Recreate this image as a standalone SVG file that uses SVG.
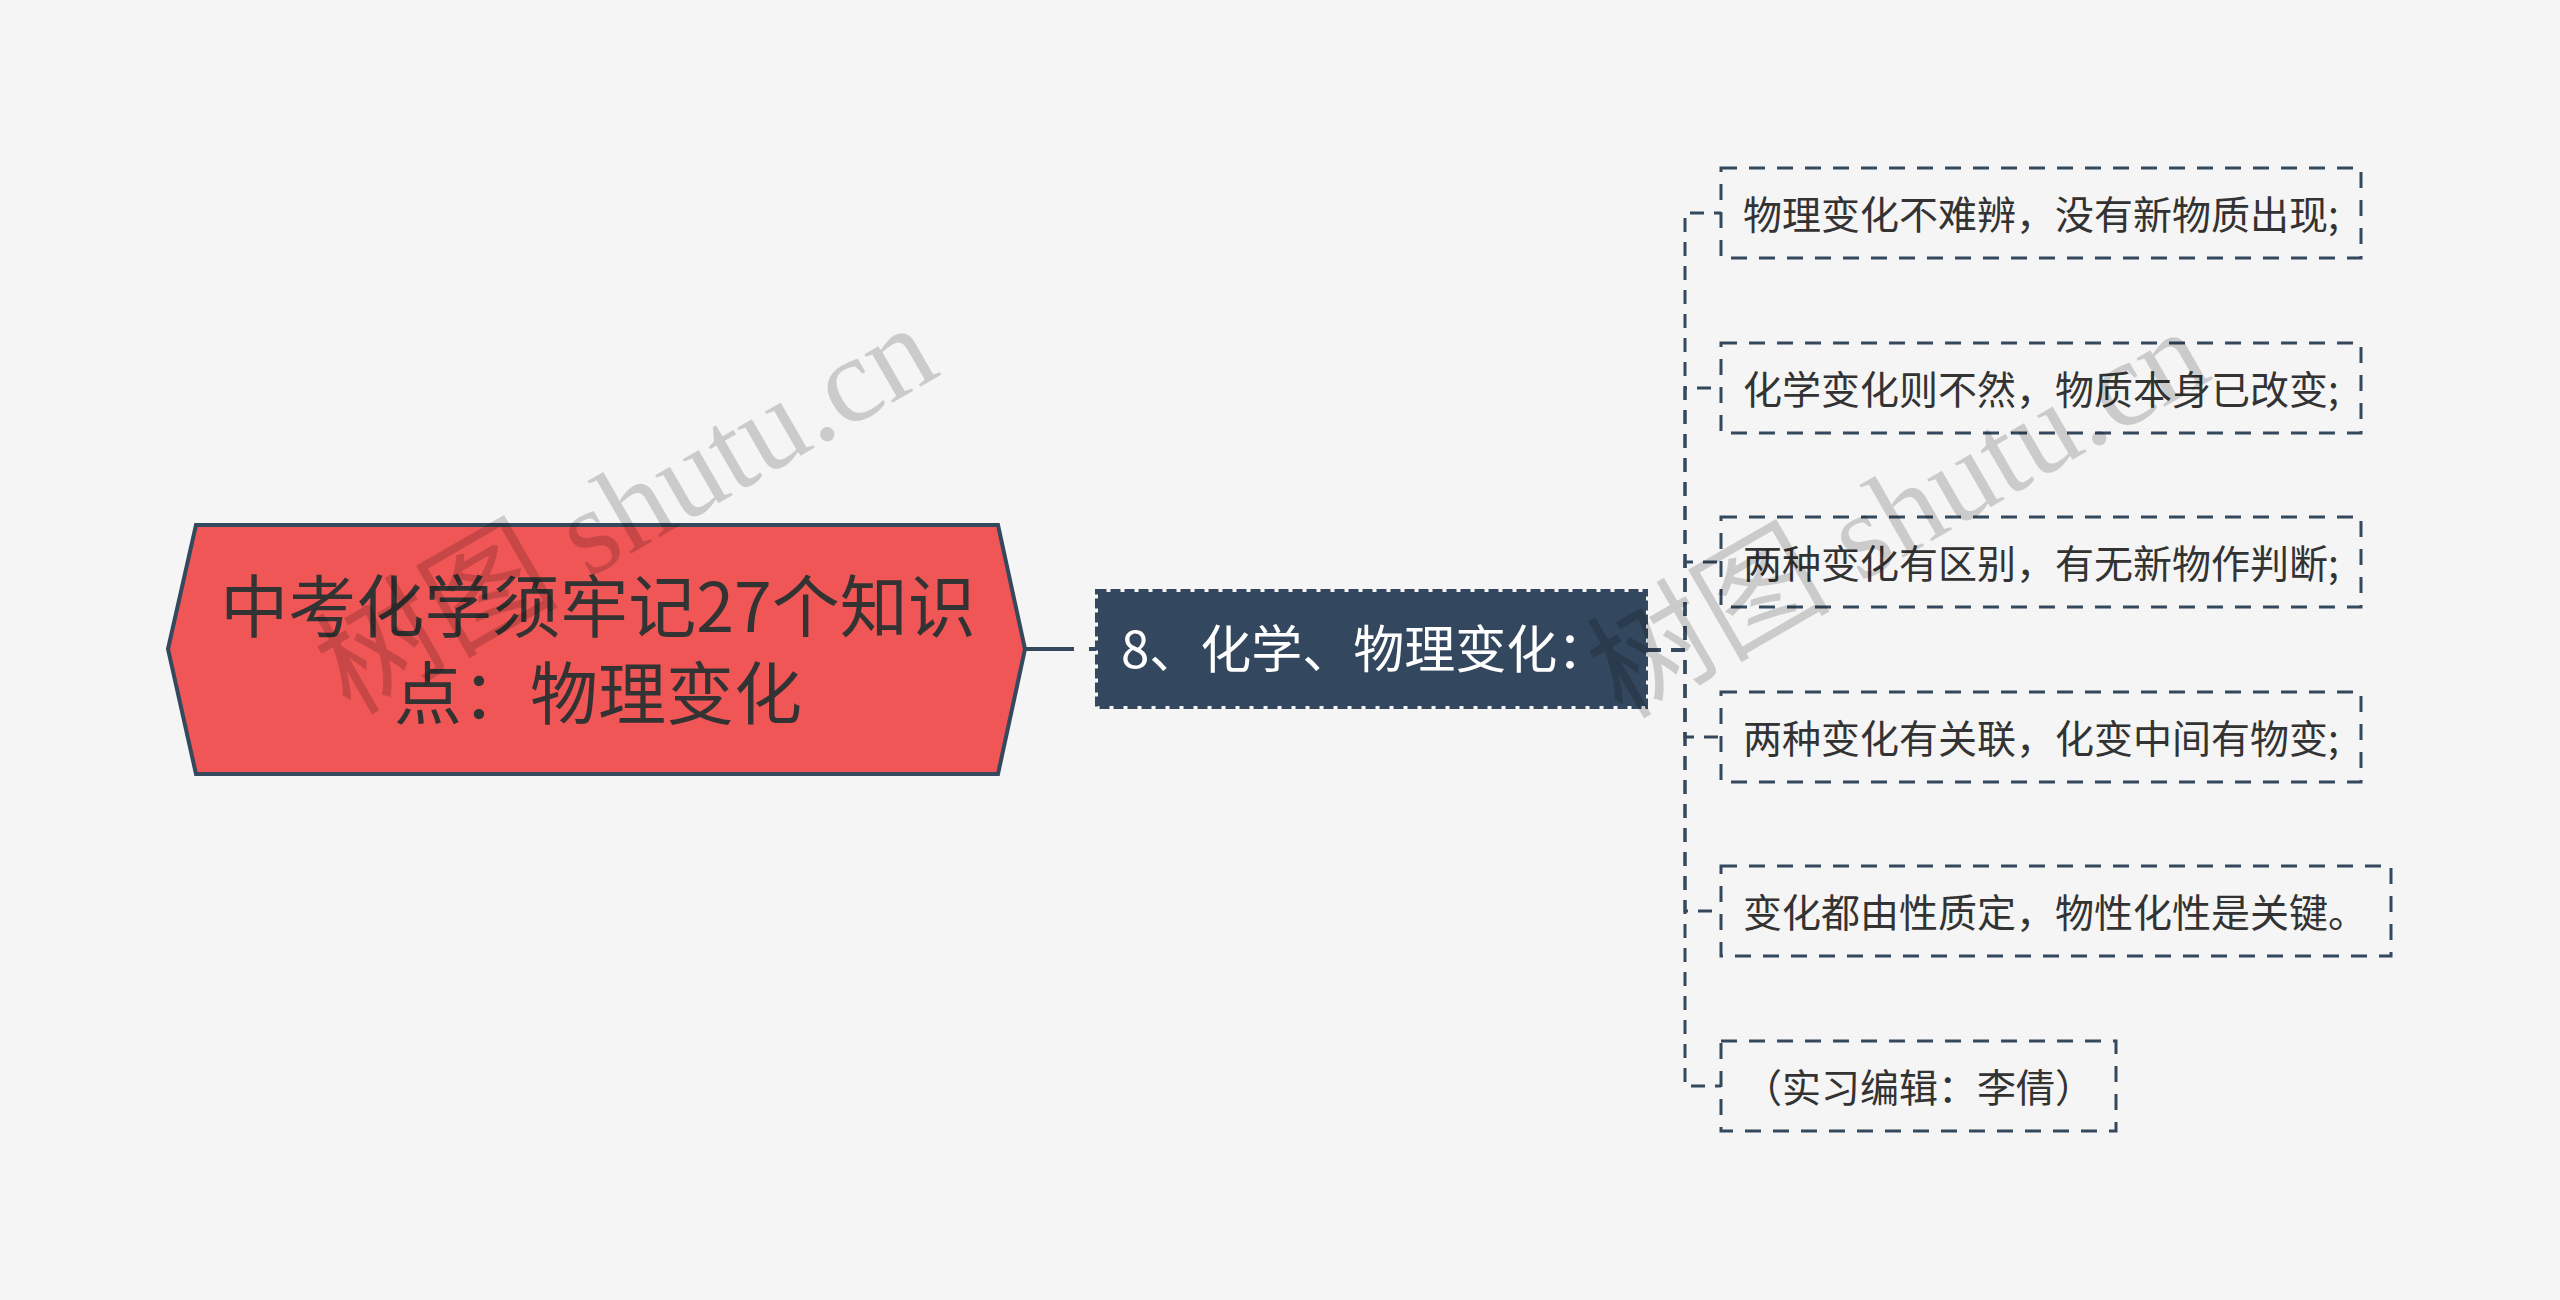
<svg xmlns="http://www.w3.org/2000/svg" width="2560" height="1300" viewBox="0 0 2560 1300">
<style>
.cjk{font-family:"Noto Sans CJK SC","Noto Sans",sans-serif}
.root-t{font-size:68px;fill:#333333;text-anchor:middle}
.mid-t{font-size:51px;fill:#ffffff}
.leaf-t{font-size:39px;fill:#333333}
.leaf{fill:none;stroke:#34495E;stroke-width:3;stroke-dasharray:16 12}
.conn{fill:none;stroke:#34495E;stroke-width:3;stroke-dasharray:14 10}
.wm{font-family:"Liberation Serif","Noto Sans CJK SC",serif;font-size:122px;fill:#000000;fill-opacity:0.17}
</style>
<rect x="0" y="0" width="2560" height="1300" fill="#F5F5F5"/>
<g id="connectors">
<path d="M1025 649 H1096" fill="none" stroke="#34495E" stroke-width="4" stroke-dasharray="49 15 10 20"/>
<path class="conn" d="M1647 650 H1685 V213 H1721"/>
<path class="conn" d="M1647 650 H1685 V388 H1721"/>
<path class="conn" d="M1647 650 H1685 V562 H1721"/>
<path class="conn" d="M1647 650 H1685 V737 H1721"/>
<path class="conn" d="M1647 650 H1685 V911 H1721"/>
<path class="conn" d="M1647 650 H1685 V1086 H1721"/>
</g>
<g id="root">
<polygon points="168,649 196,525 998,525 1025,649 998,774 196,774" fill="#F05656" stroke="#34495E" stroke-width="4"/>
<text class="cjk root-t" x="598" y="632">中考化学须牢记27个知识</text>
<text class="cjk root-t" x="598" y="719">点：物理变化</text>
</g>
<g id="mid">
<rect x="1098" y="592" width="548" height="114" fill="#33485E"/>
<rect x="1096.5" y="590.5" width="550" height="117" fill="none" stroke="#33485E" stroke-width="3" stroke-dasharray="10 4"/>
<text class="cjk mid-t" x="1121" y="668">8、化学、物理变化：</text>
</g>
<g id="leaf1">
<rect class="leaf" x="1721" y="168" width="640" height="90"/>
<text class="cjk leaf-t" x="1743" y="229">物理变化不难辨，没有新物质出现;</text>
</g>
<g id="leaf2">
<rect class="leaf" x="1721" y="343" width="640" height="90"/>
<text class="cjk leaf-t" x="1743" y="404">化学变化则不然，物质本身已改变;</text>
</g>
<g id="leaf3">
<rect class="leaf" x="1721" y="517" width="640" height="90"/>
<text class="cjk leaf-t" x="1743" y="578">两种变化有区别，有无新物作判断;</text>
</g>
<g id="leaf4">
<rect class="leaf" x="1721" y="692" width="640" height="90"/>
<text class="cjk leaf-t" x="1743" y="753">两种变化有关联，化变中间有物变;</text>
</g>
<g id="leaf5">
<rect class="leaf" x="1721" y="866" width="670" height="90"/>
<text class="cjk leaf-t" x="1743" y="927">变化都由性质定，物性化性是关键。</text>
</g>
<g id="leaf6">
<rect class="leaf" x="1721" y="1041" width="395" height="90"/>
<text class="cjk leaf-t" x="1743" y="1102">（实习编辑：李倩）</text>
</g>
<g id="watermarks">
<text class="wm" transform="translate(350,716) rotate(-30)">树图 shutu.cn</text>
<text class="wm" transform="translate(1622,720) rotate(-30)">树图 shutu.cn</text>
</g>
</svg>
